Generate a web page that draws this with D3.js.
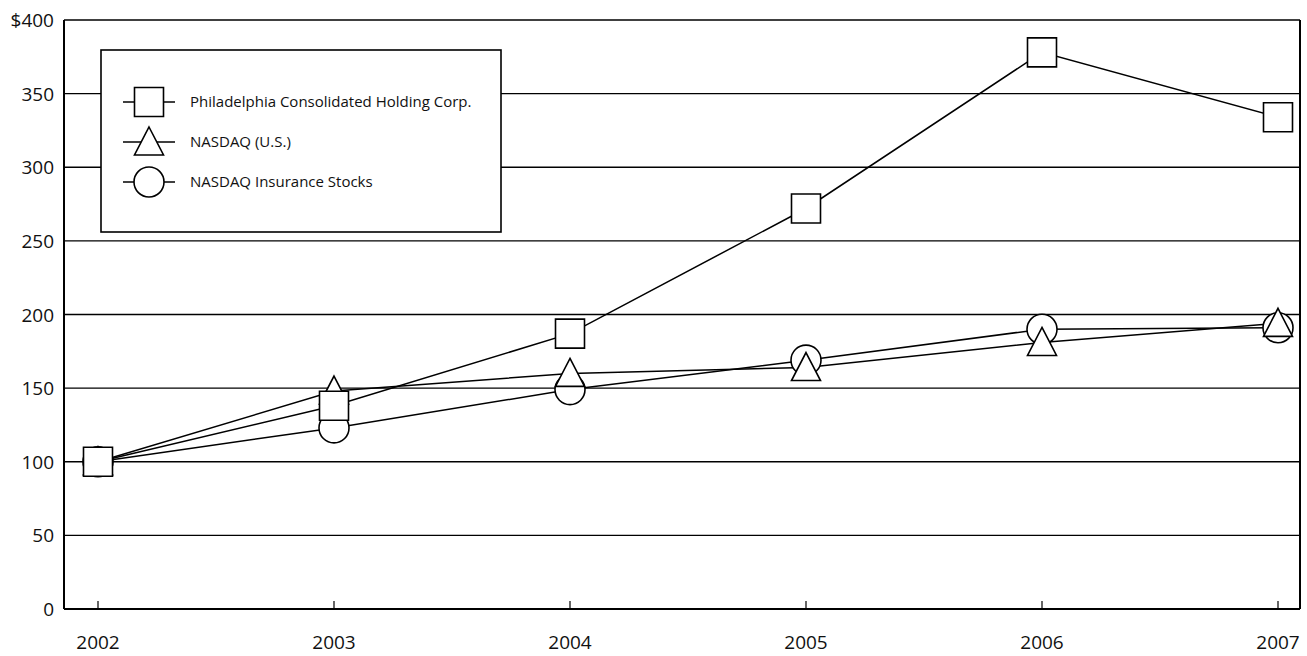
<!DOCTYPE html>
<html>
<head>
<meta charset="utf-8">
<script src="https://cdn.jsdelivr.net/npm/d3@7"></script>
<style>
  body { margin: 0; background: #fff; }
  text { font-family: "Open Sans", "DejaVu Sans", sans-serif; fill: #111; }
  .tick-lbl { font-size: 19px; }
  .leg-lbl { font-size: 15px; }
</style>
</head>
<body>
<svg id="chart" width="1307" height="656"></svg>
<script>
// data
var years = [2002, 2003, 2004, 2005, 2006, 2007];
var phly = [100, 138, 187, 272, 378, 334];
var nasdaq = [100, 148, 160, 164, 181, 194];
var insurance = [100, 123, 149, 169, 190, 191];
var yTicks = [0, 50, 100, 150, 200, 250, 300, 350, 400];
var seriesNames = ["Philadelphia Consolidated Holding Corp.", "NASDAQ (U.S.)", "NASDAQ Insurance Stocks"];

var svg = d3.select("#chart");
var mLeft = 64, mRight = 1300, mTop = 20, mBottom = 609;

var x = d3.scalePoint().domain(years).range([98, 1278]);
var y = d3.scaleLinear().domain([0, 400]).range([mBottom, mTop]);

// gridlines
svg.selectAll(".grid")
    .data(yTicks)
    .enter()
    .append("line")
    .attr("x1", mLeft).attr("x2", mRight)
    .attr("y1", function(d) { return y(d); })
    .attr("y2", function(d) { return y(d); })
    .attr("stroke", "#000")
    .attr("stroke-width", function(d) { return d == 0 ? 2 : 1.4; });

// frame sides
svg.append("line").attr("x1", mLeft).attr("x2", mLeft).attr("y1", mTop).attr("y2", mBottom)
    .attr("stroke", "#000").attr("stroke-width", 2);
svg.append("line").attr("x1", mRight).attr("x2", mRight).attr("y1", mTop).attr("y2", mBottom)
    .attr("stroke", "#000").attr("stroke-width", 2);

// y labels
svg.selectAll(".ylbl")
    .data(yTicks)
    .enter()
    .append("text")
    .attr("class", "tick-lbl")
    .attr("x", 54)
    .attr("y", function(d) { return y(d) + 7; })
    .attr("text-anchor", "end")
    .text(function(d) { return d == 400 ? "$400" : d; });

// x ticks + labels
svg.selectAll(".xtick")
    .data(years)
    .enter()
    .append("line")
    .attr("x1", function(d) { return x(d); })
    .attr("x2", function(d) { return x(d); })
    .attr("y1", mBottom).attr("y2", mBottom - 8)
    .attr("stroke", "#000").attr("stroke-width", 1.2);
svg.selectAll(".xlbl")
    .data(years)
    .enter()
    .append("text")
    .attr("class", "tick-lbl")
    .attr("x", function(d) { return x(d); })
    .attr("y", 649)
    .attr("text-anchor", "middle")
    .text(function(d) { return d; });

var line = d3.line()
    .x(function(d, i) { return x(years[i]); })
    .y(function(d) { return y(d); });

[phly, nasdaq, insurance].forEach(function(s) {
  svg.append("path")
      .attr("d", line(s))
      .attr("fill", "none")
      .attr("stroke", "#000")
      .attr("stroke-width", 1.5);
});

// marker shapes
var sq = d3.symbol().type(d3.symbolSquare).size(29 * 29);
var ci = d3.symbol().type(d3.symbolCircle).size(Math.PI * 15 * 15);
var tri = "M0,-15 L14.5,13 L-14.5,13 Z";
function markerPath(kind) {
  if (kind == "sq") return sq();
  if (kind == "tri") return tri;
  return ci();
}
function drawMarkers(data, kind) {
  svg.selectAll(".m-" + kind)
      .data(data)
      .enter()
      .append("path")
      .attr("transform", function(d, i) { return "translate(" + x(years[i]) + "," + y(d) + ")"; })
      .attr("d", markerPath(kind))
      .attr("fill", "#fff")
      .attr("stroke", "#000")
      .attr("stroke-width", 1.6);
}
drawMarkers(insurance, "ci");
drawMarkers(nasdaq, "tri");
drawMarkers(phly, "sq");

// legend
var leg = svg.append("g");
leg.append("rect")
    .attr("x", 101).attr("y", 50).attr("width", 400).attr("height", 182)
    .attr("fill", "#fff").attr("stroke", "#000").attr("stroke-width", 1.6);
var legY = [102, 142, 182];
var legKinds = ["sq", "tri", "ci"];
seriesNames.forEach(function(name, i) {
  leg.append("line")
      .attr("x1", 123).attr("x2", 175)
      .attr("y1", legY[i]).attr("y2", legY[i])
      .attr("stroke", "#000").attr("stroke-width", 1.5);
  leg.append("path")
      .attr("transform", "translate(149," + legY[i] + ")")
      .attr("d", markerPath(legKinds[i]))
      .attr("fill", "#fff").attr("stroke", "#000").attr("stroke-width", 1.6);
  leg.append("text")
      .attr("class", "leg-lbl")
      .attr("x", 190)
      .attr("y", legY[i] + 5)
      .text(name);
});
</script>
</body>
</html>
